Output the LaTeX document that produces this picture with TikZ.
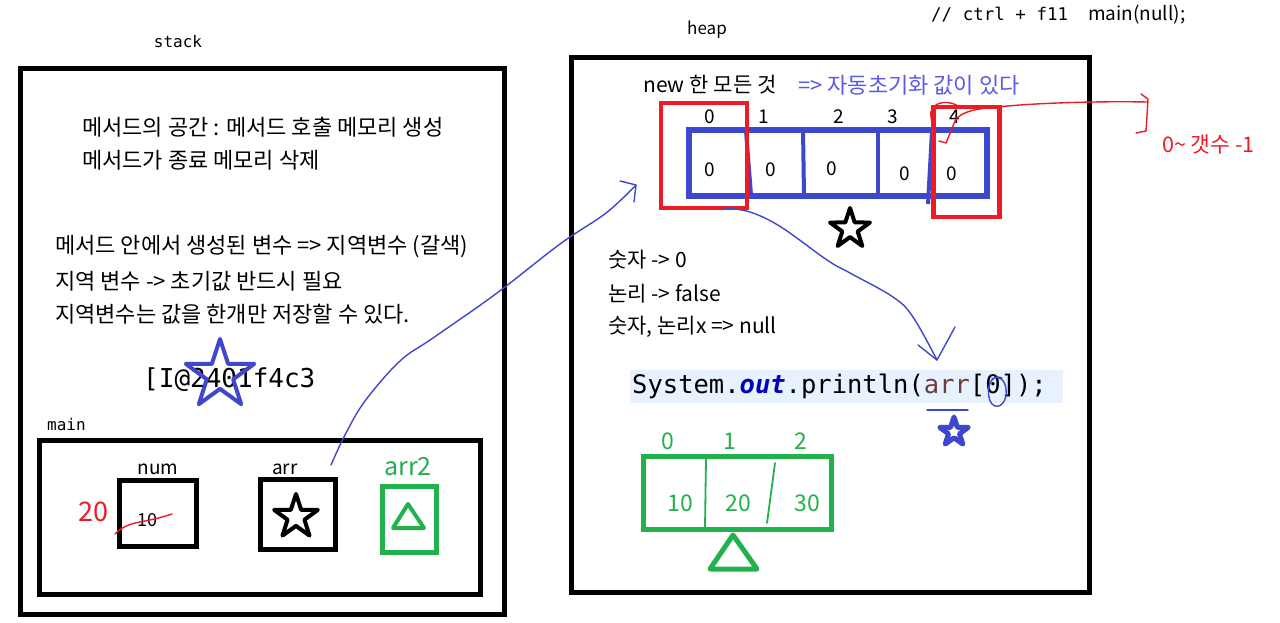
\documentclass[tikz,border=0pt]{standalone}
\usepackage{fontspec}
\setmainfont{Noto Sans CJK KR}
\newfontfamily\mono{DejaVu Sans Mono}
\usetikzlibrary{shapes.geometric}
\definecolor{pblue}{HTML}{3F48CC}
\definecolor{pred}{HTML}{ED1C24}
\definecolor{pgreen}{HTML}{22B14C}
\definecolor{lblue}{HTML}{5B5BE8}
\definecolor{codebg}{HTML}{E8F2FE}
\definecolor{kwblue}{HTML}{0000C0}
\definecolor{varbrown}{HTML}{6A3E3E}
\begin{document}
\begin{tikzpicture}[x=1pt,y=-1pt,
  frame/.style={draw, line width=5pt, inner sep=0pt, outer sep=0pt},
  txt/.style={inner sep=0pt, anchor=west, font=\fontsize{22}{25}\selectfont},
  htxt/.style={inner sep=0pt, anchor=west, font=\fontsize{21}{24}\selectfont},
  lbl/.style={inner sep=0pt, font=\fontsize{19}{22}\selectfont},
  monolbl/.style={inner sep=0pt, font=\mono\fontsize{16}{19}\selectfont},
  idx/.style={inner sep=0pt, font=\fontsize{19}{22}\selectfont},
  gnum/.style={inner sep=0pt, text=pgreen, font=\fontsize{23}{26}\selectfont},
  starshape/.style={star, star points=5, star point ratio=2.6, inner sep=0pt, draw, line join=round},
  bluehand/.style={draw=pblue, line width=1.4pt, line cap=round, line join=round},
  redhand/.style={draw=pred, line width=1.4pt, line cap=round, line join=round},
  greenhand/.style={draw=pgreen, line width=1.8pt, line cap=round}
]
\useasboundingbox[fill=white] (0,0) rectangle (1280,622);

% ---------- stack ----------
\node[monolbl] (stacklbl) at (178,42) {stack};
\node[frame, minimum width=484pt, minimum height=546pt] (stack) at (262,341) {};
\node[txt] (s1) at (82,127) {메서드의 공간 : 메서드 호출 메모리 생성};
\node[txt] (s2) at (82,160) {메서드가 종료 메모리 삭제};
\node[txt] (s3) at (55,247) {메서드 안에서 생성된 변수 => 지역변수 (갈색)};
\node[txt] (s4) at (55,281) {지역 변수 -> 초기값 반드시 필요};
\node[txt] (s5) at (55,314) {지역변수는 값을 한개만 저장할 수 있다.};
\node[inner sep=0pt, anchor=west, font=\mono\fontsize{26}{29}\selectfont] (addr) at (143,380) {[I@2401f4c3};
\node[starshape, draw=pblue, line width=4pt, minimum size=72pt] (bstar) at (220,375) {};

% ---------- main frame ----------
\node[monolbl, anchor=west] (mainlbl) at (47,425) {main};
\node[frame, minimum width=441pt, minimum height=154pt] (main) at (260,517.5) {};
\node[lbl] (numlbl) at (158,469) {num};
\node[frame, minimum width=77pt, minimum height=66pt] (numbox) at (158,513) {};
\node[inner sep=0pt, font=\fontsize{18}{20}\selectfont] (ten) at (147,520) {10};
\node[inner sep=0pt, text=pred, font=\fontsize{27}{29}\selectfont] (twenty) at (93,512) {20};
\draw[redhand] (115,534) .. controls (125,524) and (135,523) .. (145,521) .. controls (155,519) and (163,517) .. (172,514);
\node[lbl] (arrlbl) at (285,469) {arr};
\node[frame, minimum width=75pt, minimum height=70pt] (arrbox) at (298,514.5) {};
\node[starshape, draw=black, line width=4pt, minimum size=46pt] (kstar) at (296,517) {};
\node[inner sep=0pt, text=pgreen, font=\fontsize{25}{27}\selectfont] (arr2lbl) at (408,467) {arr2};
\node[frame, draw=pgreen, minimum width=54pt, minimum height=66pt] (arr2box) at (409,519) {};
\draw[draw=pgreen, line width=4pt, line join=round] (408,504) -- (424,528) -- (393,528) -- cycle;

% ---------- heap ----------
\node[lbl, font=\fontsize{17}{20}\selectfont] (heaplbl) at (707,30) {heap};
\node[inner sep=0pt, anchor=west] (comment) at (931,15) {{\mono\fontsize{17.5}{20}\selectfont // ctrl + f11}\hspace{20pt}{\fontsize{19}{21}\selectfont main(null);}};
\node[frame, minimum width=518pt, minimum height=535pt] (heap) at (830,325) {};
\node[txt, font=\fontsize{21}{24}\selectfont] (newtxt) at (643,85) {new\hspace{5pt}한\hspace{5pt}모든\hspace{5pt}것};
\node[txt, text=lblue] (autoinit) at (798,85) {=> 자동초기화 값이 있다};

% blue array
\node[frame, draw=pblue, line width=6pt, minimum width=298pt, minimum height=66pt] (barr) at (838,163) {};
\draw[draw=pblue, line width=4pt] (746,131) -- (751,195);
\draw[draw=pblue, line width=4pt] (803,129) -- (804,195);
\draw[draw=pblue, line width=4pt] (878,128) -- (878,195);
\draw[draw=pblue, line width=4pt] (932,131) -- (928,204);
\foreach \x/\n in {710/0,764/1,839/2,893/3,955/4}
  \node[idx] (bi\n) at (\x,117) {\n};
\foreach \x/\y/\n in {710/170/a,771/170/b,832/169/c,905/174/d,952/174/e}
  \node[idx] (bv\n) at (\x,\y) {0};
% red boxes
\node[frame, draw=pred, line width=4.5pt, minimum width=86pt, minimum height=105pt] (rbox1) at (704,155.5) {};
\node[frame, draw=pred, line width=4.5pt, minimum width=66pt, minimum height=110pt] (rbox2) at (966.5,162) {};
% red annotation
\draw[redhand] (958,106) .. controls (945,98) and (928,104) .. (931,117) .. controls (932,123) .. (935,127);
\coordinate (rstart) at (939,141);
\coordinate (rend) at (1147,102);
\draw[redhand] (rstart) -- (946,143) .. controls (950,132) .. (955,121) .. controls (960,112) and (975,108) .. (1008,106) .. controls (1040,103) and (1100,101) .. (rend);
\draw[redhand] (1141,94) -- (1148,99) -- (1147,116) -- (1146,131) -- (1136,133);
\node[inner sep=0pt, anchor=west, text=pred, font=\fontsize{21.5}{24}\selectfont] (cnt) at (1162,144) {0\textasciitilde{} 갯수 -1};

\node[starshape, draw=black, line width=4pt, minimum size=42pt] (hstar) at (850,229) {};

% heap notes
\node[htxt] (h1) at (608,260) {숫자 -> 0};
\node[htxt] (h2) at (608,294) {논리 -> false};
\node[htxt] (h3) at (608,327) {숫자, 논리x => null};

% println line
\fill[codebg] (630,370) rectangle (1063,403);
\node[inner sep=0pt, anchor=west, font=\mono\fontsize{25.5}{28}\selectfont] (code) at (632,386)
  {System.{\color{kwblue}\bfseries\itshape out}.println({\color{varbrown}arr}[0]);};
\draw[bluehand] (1002,378) .. controls (988,372) and (985,396) .. (992,404) .. controls (999,411) and (1008,401) .. (1006,389) .. controls (1005,379) and (998,375) .. (992,379);
\draw[bluehand] (927,410) -- (968,410);
\node[starshape, draw=pblue, line width=5pt, minimum size=30pt] (sstar) at (954,432) {};

% green array
\foreach \x/\n in {668/0,730/1,801/2}
  \node[gnum] (gi\n) at (\x,441) {\n};
\node[frame, draw=pgreen, minimum width=188pt, minimum height=73pt] (garr) at (737,492.5) {};
\draw[greenhand] (706,459) -- (705,527);
\draw[greenhand] (775,463) -- (767,523);
\node[gnum] (g10) at (680,503) {10};
\node[gnum] (g20) at (738,503) {20};
\node[gnum] (g30) at (807,503) {30};
\draw[draw=pgreen, line width=5pt, line join=round] (733,535) -- (757,569) -- (710,569) -- cycle;

% ---------- blue reference arrows ----------
\coordinate (a1) at (331,465);
\coordinate (a1tip) at (636,185);
\draw[bluehand] plot[smooth, tension=0.6] coordinates {(a1) (345,435) (365,401) (400,361) (433,338) (497,293) (560,244) (606,213) (a1tip)};
\draw[bluehand] (620,181) -- (a1tip) -- (634,202);
\coordinate (a2) at (724,208);
\coordinate (a2tip) at (937,360);
\draw[bluehand] plot[smooth, tension=0.6] coordinates {(a2) (750,212) (781,227) (827,260) (850,273) (893,297) (913,317) (a2tip)};
\draw[bluehand] (918,345) -- (a2tip) -- (955,327);
\end{tikzpicture}
\end{document}
